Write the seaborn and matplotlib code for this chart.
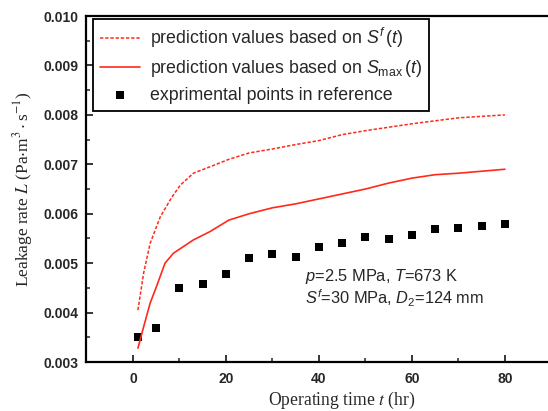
import numpy as np
import pandas as pd
import matplotlib
matplotlib.use("Agg")
import matplotlib.pyplot as plt
import seaborn as sns
from matplotlib.ticker import MultipleLocator, FixedLocator, FormatStrFormatter

# Data
t_sf = [1.08, 2.3, 3.7, 5.9, 8.4, 10.2, 13, 16.6, 20.6, 25, 30, 35, 40, 45, 50, 55, 60, 65, 70, 75, 80]
L_sf = [0.00405, 0.0048, 0.0054, 0.00594, 0.00634, 0.00658, 0.00682, 0.00695, 0.0071,
        0.00723, 0.00731, 0.0074, 0.00748, 0.0076, 0.00768, 0.00775, 0.00782, 0.00788,
        0.00794, 0.00797, 0.0080]
t_smax = [1.08, 2.3, 3.7, 5.2, 6.9, 8.7, 13, 16.6, 20.6, 25, 30, 35, 40, 45, 50, 55, 60, 65, 70, 75, 80]
L_smax = [0.00328, 0.00371, 0.00419, 0.00456, 0.0050, 0.0052, 0.00547, 0.00564, 0.00587,
          0.0060, 0.00612, 0.0062, 0.0063, 0.0064, 0.0065, 0.00662, 0.00672, 0.00679,
          0.00682, 0.00686, 0.00690]
t_exp = [1, 5, 10, 15, 20, 25, 30, 35, 40, 45, 50, 55, 60, 65, 70, 75, 80]
L_exp = [0.00351, 0.00368, 0.0045, 0.00458, 0.00478, 0.00511, 0.00519, 0.00513, 0.00532,
         0.0054, 0.00552, 0.00549, 0.00556, 0.00569, 0.00571, 0.00575, 0.00579]
x_major = [0, 20, 40, 60, 80]
x_minor = [10, 30, 50, 70]

sns.set_style("ticks")
plt.rcParams['font.family'] = ['Liberation Sans', 'DejaVu Sans']
plt.rcParams['mathtext.fontset'] = 'custom'
plt.rcParams['mathtext.rm'] = 'Liberation Sans'
plt.rcParams['mathtext.it'] = 'Liberation Sans:italic'
plt.rcParams['mathtext.bf'] = 'Liberation Sans:bold'

fig = plt.figure(figsize=(5.48, 4.11), dpi=100)
ax = fig.add_axes([0.1577, 0.1192, 0.9334, 0.8418])

df_sf = pd.DataFrame({"t": t_sf, "L": L_sf})
df_smax = pd.DataFrame({"t": t_smax, "L": L_smax})
df_exp = pd.DataFrame({"t": t_exp, "L": L_exp})

sns.lineplot(data=df_sf, x="t", y="L", ax=ax, color="#ff2a1a", lw=1.1,
             linestyle=(0, (2.2, 1.2)), label=r"prediction values based on $S^{f}\,(t)$")
sns.lineplot(data=df_smax, x="t", y="L", ax=ax, color="#ff2a1a", lw=1.2,
             label=r"prediction values based on $S_{\rm max}\,(t)$")
sns.scatterplot(data=df_exp, x="t", y="L", ax=ax, marker="s", s=30, color="black",
                edgecolor="black", linewidth=0, label="exprimental points in reference")

ax.set_xlim(-10, 100)
ax.set_ylim(0.003, 0.010)
ax.xaxis.set_major_locator(FixedLocator(x_major))
ax.xaxis.set_minor_locator(FixedLocator(x_minor))
ax.yaxis.set_major_locator(MultipleLocator(0.001))
ax.yaxis.set_minor_locator(MultipleLocator(0.0005))
ax.yaxis.set_major_formatter(FormatStrFormatter('%.3f'))
ax.tick_params(which='major', direction='in', length=5, width=1.3, labelsize=10)
ax.tick_params(axis='x', which='major', pad=7)
ax.tick_params(axis='y', which='major', pad=6)
ax.tick_params(which='minor', direction='in', length=3, width=1.1)
for lbl in ax.get_xticklabels() + ax.get_yticklabels():
    lbl.set_fontweight('bold')
for sp in ax.spines.values():
    sp.set_linewidth(1.6)
    sp.set_color('black')

ax.set_xlabel(r"Operating time $t$ (hr)", family='Liberation Serif', fontsize=12.7,
              math_fontfamily='stix', labelpad=3)
ax.set_ylabel(r"Leakage rate $L$ (Pa$\cdot$m$^3\cdot$s$^{-1}$)", family='Liberation Serif',
              fontsize=12.5, math_fontfamily='stix', labelpad=6)

leg = ax.legend(loc='upper left', bbox_to_anchor=(0.01, 0.997), fontsize=12.8, frameon=True,
                fancybox=False, edgecolor='black', framealpha=1, handlelength=2.2,
                borderpad=0.4, labelspacing=0.45, handletextpad=0.6, borderaxespad=0.1)
leg.get_frame().set_linewidth(1.3)

ax.text(0.428, 0.235, r"$p$=2.5 MPa, $T$=673 K", transform=ax.transAxes, fontsize=11.8)
ax.text(0.428, 0.168, r"$S^{f}$=30 MPa, $D_2$=124 mm", transform=ax.transAxes, fontsize=11.8)

fig.savefig("out.png", dpi=100)
